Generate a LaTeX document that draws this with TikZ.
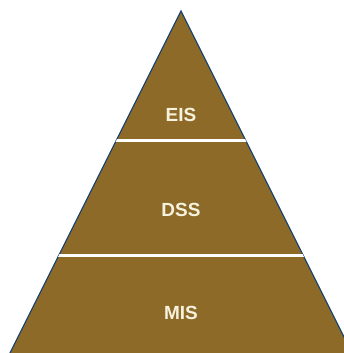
\documentclass[tikz,border=0pt]{standalone}
\usepackage{fontspec}
\setmainfont{Liberation Sans}
\definecolor{pyrbrown}{RGB}{141,106,40}
\definecolor{pyredge}{RGB}{30,70,110}
\definecolor{pyrtext}{RGB}{246,242,222}
\tikzset{
  lvl/.style={text=pyrtext, font=\fontsize{19}{19}\selectfont\bfseries, anchor=center, inner sep=0pt},
  sep/.style={draw=white, line width=3pt}
}
\begin{document}
\begin{tikzpicture}[x=1pt,y=-1pt]
\useasboundingbox (0,0) rectangle (344,353);
\coordinate (apex) at (181,11);
\coordinate (bl) at (-5,383);
\coordinate (br) at (367,383);
\begin{scope}
\clip (0,0) rectangle (344,353);
\fill[pyrbrown] (apex) -- (bl) -- (br) -- cycle;
\draw[pyredge, line width=1.2pt, line join=miter] (bl) -- (apex) -- (br);
\begin{scope}
\clip (apex) -- (bl) -- (br) -- cycle;
\coordinate (s1l) at (0,140);
\coordinate (s1r) at (344,140);
\coordinate (s2l) at (0,255);
\coordinate (s2r) at (344,255);
\draw[sep] (s1l) -- (s1r);
\draw[sep] (s2l) -- (s2r);
\end{scope}
\end{scope}
\node[lvl] (eis) at (181,115) {EIS};
\node[lvl] (dss) at (181,210) {DSS};
\node[lvl] (mis) at (181,313) {MIS};
\end{tikzpicture}
\end{document}
